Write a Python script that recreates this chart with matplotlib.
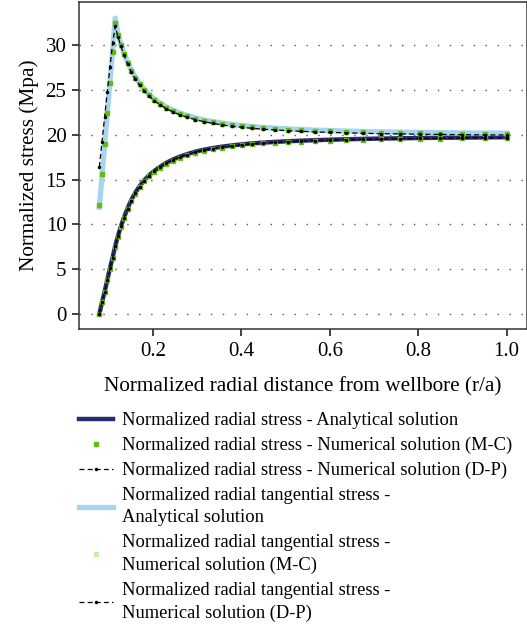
import numpy as np
import matplotlib
matplotlib.use("Agg")
import matplotlib.pyplot as plt
import matplotlib.lines as mlines

plt.rcParams['font.family'] = ['Liberation Serif', 'DejaVu Serif']

# radial distance (r/a) -- mesh nodes
x_nodes = [0.079, 0.085, 0.091, 0.097, 0.103, 0.109, 0.115, 0.121, 0.128, 0.135,
           0.143, 0.151, 0.160, 0.170, 0.180, 0.191, 0.203, 0.216, 0.230, 0.245,
           0.261, 0.278, 0.296, 0.315, 0.335, 0.356, 0.378, 0.401, 0.425, 0.450,
           0.477, 0.505, 0.535, 0.567, 0.601, 0.637, 0.675, 0.715, 0.758, 0.803,
           0.850, 0.900, 0.950, 1.000]

radial_analytical = [0.0, 1.3, 2.5, 3.8, 5.1, 6.3, 7.6, 8.7, 9.8, 10.8,
                     11.8, 12.7, 13.5, 14.25, 14.9, 15.45, 15.95, 16.4, 16.85, 17.22,
                     17.55, 17.84, 18.1, 18.32, 18.5, 18.66, 18.8, 18.92, 19.03, 19.12,
                     19.2, 19.27, 19.33, 19.39, 19.44, 19.49, 19.53, 19.57, 19.6, 19.63,
                     19.66, 19.68, 19.7, 19.72]

radial_mc = [0.0, 1.3, 2.5, 3.8, 5.0, 6.2, 7.5, 8.6, 9.7, 10.7,
             11.7, 12.6, 13.4, 14.15, 14.8, 15.35, 15.85, 16.3, 16.75, 17.12,
             17.45, 17.74, 18.0, 18.22, 18.4, 18.56, 18.7, 18.82, 18.93, 19.02,
             19.1, 19.17, 19.23, 19.29, 19.34, 19.39, 19.43, 19.47, 19.5, 19.53,
             19.56, 19.58, 19.6, 19.62]

radial_dp = [0.0, 1.3, 2.5, 3.8, 5.1, 6.3, 7.6, 8.7, 9.8, 10.75,
             11.75, 12.65, 13.45, 14.2, 14.85, 15.4, 15.9, 16.35, 16.8, 17.17,
             17.5, 17.79, 18.05, 18.27, 18.45, 18.61, 18.75, 18.87, 18.98, 19.07,
             19.15, 19.22, 19.28, 19.34, 19.39, 19.44, 19.48, 19.52, 19.55, 19.58,
             19.61, 19.63, 19.65, 19.67]

tangential_analytical = [11.9, 15.4, 18.9, 22.4, 25.9, 29.4, 33.0, 31.27, 30.07, 29.05,
                         28.07, 27.24, 26.45, 25.71, 25.09, 24.52, 24.0, 23.54, 23.12, 22.75,
                         22.42, 22.14, 21.88, 21.66, 21.47, 21.3, 21.15, 21.03, 20.91, 20.81,
                         20.73, 20.65, 20.58, 20.51, 20.46, 20.41, 20.36, 20.32, 20.29, 20.26,
                         20.23, 20.2, 20.18, 20.17]

tangential_mc = [12.2, 15.6, 19.0, 22.4, 25.8, 29.2, 32.5, 31.1, 29.95, 28.95,
                 27.97, 27.14, 26.35, 25.61, 24.99, 24.42, 23.9, 23.44, 23.02, 22.65,
                 22.32, 22.04, 21.78, 21.56, 21.37, 21.2, 21.05, 20.93, 20.81, 20.71,
                 20.63, 20.55, 20.48, 20.41, 20.36, 20.31, 20.26, 20.22, 20.19, 20.16,
                 20.13, 20.1, 20.08, 20.07]

tangential_dp = [16.4, 19.2, 22.0, 24.8, 27.5, 30.2, 32.1, 30.9, 29.85, 28.85,
                 27.87, 27.04, 26.25, 25.51, 24.89, 24.32, 23.8, 23.34, 22.92, 22.55,
                 22.22, 21.94, 21.68, 21.46, 21.27, 21.1, 20.95, 20.83, 20.71, 20.61,
                 20.53, 20.45, 20.38, 20.31, 20.26, 20.21, 20.16, 20.12, 20.09, 20.06,
                 20.03, 20.0, 19.98, 19.97]

labels = ['Normalized radial stress - Analytical solution',
          'Normalized radial stress - Numerical solution (M-C)',
          'Normalized radial stress - Numerical solution (D-P)',
          'Normalized radial tangential stress -\nAnalytical solution',
          'Normalized radial tangential stress -\nNumerical solution (M-C)',
          'Normalized radial tangential stress -\nNumerical solution (D-P)']

navy = '#2b2a6b'
light_blue = '#a8d4ee'
green = '#66bb11'
light_green = '#c8eea4'

fig = plt.figure(figsize=(5.27, 6.27), dpi=100)
ax = fig.add_axes([79 / 527, 1 - 329 / 627, 1 - 79 / 527, 327 / 627])

l1, = ax.plot(x_nodes, radial_analytical, color=navy, lw=3.2, zorder=3)
l4, = ax.plot(x_nodes, tangential_analytical, color=light_blue, lw=3.8, zorder=3)
l2, = ax.plot(x_nodes, radial_mc, ls='none', marker='s', ms=2.6, color=green, zorder=4)
l5, = ax.plot(x_nodes, tangential_mc, ls='none', marker='s', ms=2.6, color=green, zorder=4)
l3, = ax.plot(x_nodes, radial_dp, ls='--', lw=0.9, marker='.', ms=3, color='black',
              dashes=(4, 2.5), zorder=5)
l6, = ax.plot(x_nodes, tangential_dp, ls='--', lw=0.9, marker='.', ms=3, color='black',
              dashes=(4, 2.5), zorder=5)

ax.set_xlim(0.033, 1.046)
ax.set_ylim(-1.67, 34.8)
ax.set_xticks([0.2, 0.4, 0.6, 0.8, 1.0])
ax.set_xticklabels(['0.2', '0.4', '0.6', '0.8', '1.0'])
ax.set_yticks([0, 5, 10, 15, 20, 25, 30])
ax.yaxis.grid(True, linestyle=(0, (1, 7.6)), color='#555555', lw=1.0)
ax.set_axisbelow(True)
ax.tick_params(direction='out', length=5, width=1.2, labelsize=15, pad=4, color='#222222')
for s in ax.spines.values():
    s.set_linewidth(1.1)
    s.set_color('#333333')

ax.set_xlabel('Normalized radial distance from wellbore (r/a)', fontsize=15.3, labelpad=12)
ax.set_ylabel('Normalized stress (Mpa)', fontsize=15.3, labelpad=5)

# legend handle for the M-C tangential marker uses a lighter green
h5 = mlines.Line2D([], [], ls='none', marker='s', ms=2.6, color=light_green)
leg = fig.legend([l1, l2, l3, l4, h5, l6], labels, loc='upper left',
                 bbox_to_anchor=(79 / 527, 1 - 412 / 627), frameon=False, fontsize=13.3,
                 numpoints=1, handlelength=1.85, handletextpad=0.47, labelspacing=0.42,
                 borderaxespad=0, borderpad=0)
for t in leg.get_texts():
    t.set_linespacing(1.42)

fig.savefig('out.png', dpi=100)
